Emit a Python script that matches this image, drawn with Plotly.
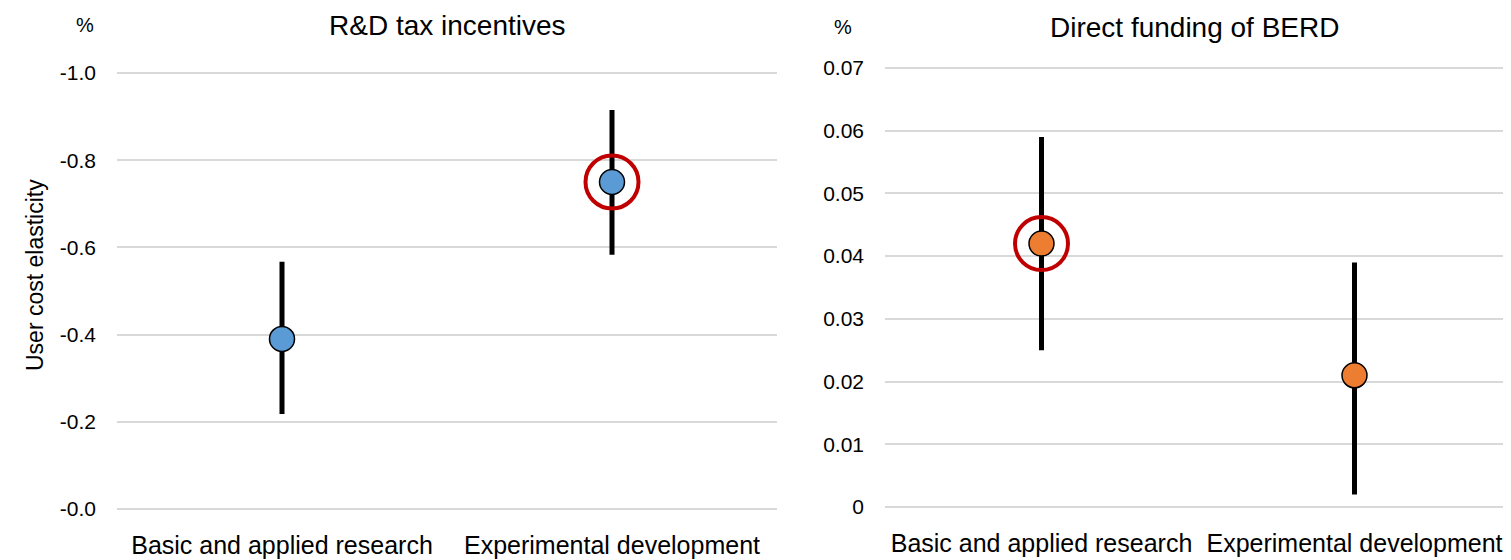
import plotly.graph_objects as go

categories = ["Basic and applied research", "Experimental development"]

# Left panel: R&D tax incentives (user cost elasticity)
tax_values = [-0.39, -0.75]
tax_upper = [-0.567, -0.915]   # more negative end
tax_lower = [-0.218, -0.583]   # less negative end
tax_highlight = [False, True]
tax_ticks = [0.0, -0.2, -0.4, -0.6, -0.8, -1.0]
tax_ticktext = ["-0.0", "-0.2", "-0.4", "-0.6", "-0.8", "-1.0"]

# Right panel: Direct funding of BERD
dir_values = [0.042, 0.021]
dir_upper = [0.059, 0.039]
dir_lower = [0.025, 0.002]
dir_highlight = [True, False]
dir_ticks = [0, 0.01, 0.02, 0.03, 0.04, 0.05, 0.06, 0.07]
dir_ticktext = ["0", "0.01", "0.02", "0.03", "0.04", "0.05", "0.06", "0.07"]

titles = ["R&D tax incentives", "Direct funding of BERD"]
y_title = "User cost elasticity"

FONT = "Liberation Sans, Arial, sans-serif"
BLUE = "#5B9BD5"
ORANGE = "#ED7D31"
RED = "#C00000"
GRID = "#D9D9D9"

fig = go.Figure()

def add_panel(xa, ya, vals, up, lo, hl, color):
    plus = [u - v for u, v in zip(up, vals)]
    minus = [v - l for v, l in zip(vals, lo)]
    fig.add_trace(go.Scatter(
        x=categories, y=vals, mode="markers", xaxis=xa, yaxis=ya,
        marker=dict(size=25, color=color, line=dict(color="black", width=1.5)),
        error_y=dict(type="data", symmetric=False, array=plus, arrayminus=minus,
                     thickness=5, width=0, color="black"),
        showlegend=False, cliponaxis=False,
    ))
    hx = [c for c, h in zip(categories, hl) if h]
    hy = [v for v, h in zip(vals, hl) if h]
    fig.add_trace(go.Scatter(
        x=hx, y=hy, mode="markers", xaxis=xa, yaxis=ya,
        marker=dict(size=53, symbol="circle-open", color=RED, line=dict(color=RED, width=4)),
        showlegend=False, cliponaxis=False,
    ))

add_panel("x", "y", tax_values, tax_upper, tax_lower, tax_highlight, BLUE)
add_panel("x2", "y2", dir_values, dir_upper, dir_lower, dir_highlight, ORANGE)

# page has an 8px body margin: figure occupies page pixels 8..1511 x 8..560
OFF = 8
W, H = 1511 - OFF, 560 - OFF

def px(x):
    return (x - OFF) / W

def py(y):
    return 1 - (y - OFF) / H

xcommon = dict(range=[-0.5, 1.5], showgrid=False, zeroline=False, showline=False,
               ticks="", tickangle=0, automargin=False,
               tickfont=dict(family=FONT, size=25, color="black"),
               ticklabelstandoff=6, fixedrange=True)
ycommon = dict(showgrid=True, gridcolor=GRID, gridwidth=1.5, zeroline=False, showline=False,
               ticks="", automargin=False, tickfont=dict(family=FONT, size=21, color="black"),
               ticklabelstandoff=20, fixedrange=True)

fig.update_layout(
    width=W, height=H,
    margin=dict(l=0, r=0, t=0, b=0),
    paper_bgcolor="white", plot_bgcolor="white",
    font=dict(family=FONT, color="black"),
    xaxis=dict(domain=[px(117), px(777)], anchor="y", **xcommon),
    xaxis2=dict(domain=[px(885), 1.0], anchor="y2", **xcommon),
    yaxis=dict(domain=[py(522.08), py(59.92)], anchor="x", range=[0.03, -1.03],
               tickvals=tax_ticks, ticktext=tax_ticktext, **ycommon),
    yaxis2=dict(domain=[py(519.54), py(55.46)], anchor="x2", range=[-0.002, 0.072],
                tickvals=dir_ticks, ticktext=dir_ticktext, **ycommon),
    annotations=[
        dict(text=titles[0], x=px(447), y=py(25), xref="paper", yref="paper",
             xanchor="center", yanchor="middle", showarrow=False,
             font=dict(family=FONT, size=28, color="black")),
        dict(text=titles[1], x=px(1194), y=py(27), xref="paper", yref="paper",
             xanchor="center", yanchor="middle", showarrow=False,
             font=dict(family=FONT, size=28, color="black")),
        dict(text="%", x=px(85), y=py(25), xref="paper", yref="paper",
             xanchor="center", yanchor="middle", showarrow=False,
             font=dict(family=FONT, size=20, color="black")),
        dict(text="%", x=px(843), y=py(27), xref="paper", yref="paper",
             xanchor="center", yanchor="middle", showarrow=False,
             font=dict(family=FONT, size=20, color="black")),
        dict(text=y_title, x=px(35), y=py(275), xref="paper", yref="paper",
             xanchor="center", yanchor="middle", showarrow=False, textangle=-90,
             font=dict(family=FONT, size=23, color="black")),
    ],
)

fig.write_html("out.html")
